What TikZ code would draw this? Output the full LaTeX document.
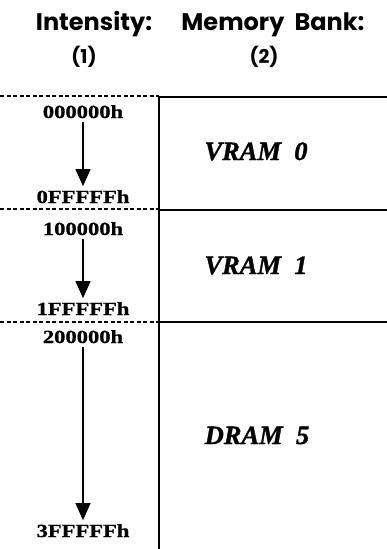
\documentclass[tikz,border=0pt]{standalone}
\usepackage{fontspec}
\newfontfamily\headfont{Poppins}
\newfontfamily\hexfont[FakeStretch=1.22, FakeBold=1]{Liberation Serif}
\newfontfamily\bankfont[FakeBold=1.2]{Liberation Serif}
\usetikzlibrary{positioning, arrows.meta}
\tikzset{
	headnode/.style={
			anchor=base,
			inner sep=0pt,
			font=\headfont\bfseries\fontsize{24}{26}\selectfont
		},
	colnode/.style={
			headnode,
			font=\headfont\bfseries\fontsize{19}{21}\selectfont
		},
	hexnode/.style={
			anchor=base,
			inner sep=0pt,
			outer sep=4pt,
			font=\hexfont\bfseries\fontsize{18.5}{20}\selectfont
		},
	banknode/.style={
			anchor=base,
			inner sep=0pt,
			font=\bankfont\bfseries\itshape\fontsize{26.5}{28}\selectfont
		},
	addrarrow/.style={
			line width=1.2pt,
			-{Triangle[width=15pt,length=17pt]}
		},
	splitline/.style={
			dash pattern=on 4pt off 2.5pt,
			line width=1.1pt
		},
	bankline/.style={
			line width=2pt
		}
}

\begin{document}
\begin{tikzpicture}[x=1pt, y=-1pt]
\useasboundingbox (0,0) rectangle (387,549);
    % column heads
    \node[headnode] (intens) at (94,30) {Intensity:};
    \node[headnode] (membank) at (273,30) {Memory\ \ Bank:};
    \node[colnode] (col1) at (84,63) {(1)};
    \node[colnode] (col2) at (264,63) {(2)};

    % address ranges
    \node[hexnode] (lo0) at (83,118) {000000h};
    \node[hexnode] (hi0) at (83,203) {0FFFFFh};
    \node[hexnode] (lo1) at (83,235) {100000h};
    \node[hexnode] (hi1) at (83,315) {1FFFFFh};
    \node[hexnode] (lo2) at (83,343) {200000h};
    \node[hexnode] (hi2) at (83,537) {3FFFFFh};

    \draw[addrarrow] (lo0) -- (hi0);
    \draw[addrarrow] (lo1) -- (hi1);
    \draw[addrarrow] (lo2) -- (hi2);

    % banks
    \node[banknode] (bank0) at (256,160) {VRAM\ \ 0};
    \node[banknode] (bank1) at (256,274) {VRAM\ \ 1};
    \node[banknode] (bank5) at (257,444) {DRAM\ \ 5};

    \draw[splitline] (0,96) -- (159,96);
    \draw[splitline] (0,209) -- (159,209);
    \draw[splitline] (0,322) -- (159,322);
    \draw[bankline] (159,97) -- (387,97);
    \draw[bankline] (159,210) -- (387,210);
    \draw[bankline] (159,322) -- (387,322);
    \draw[bankline] (159,96) -- (159,549);
\end{tikzpicture}
\end{document}
